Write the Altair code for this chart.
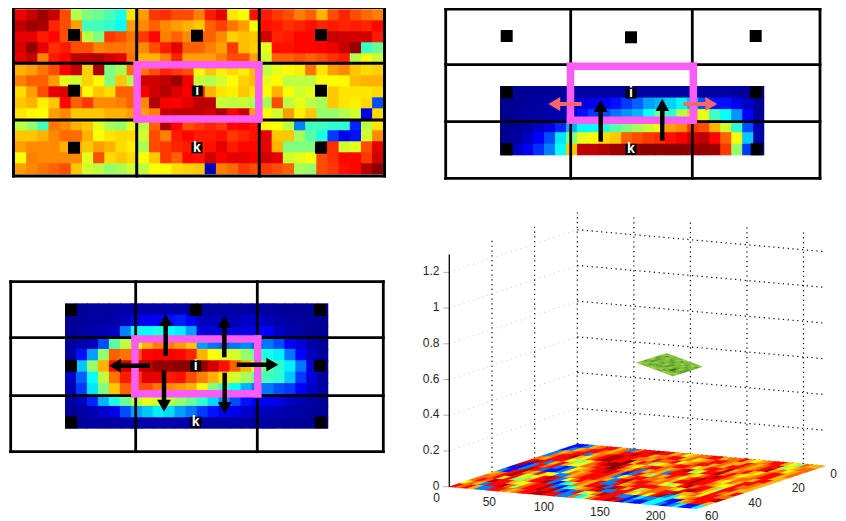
import math
import altair as alt
import pandas as pd

# ---------- heat map values (0-100 on the jet colour map) ----------
PANEL_A = [
 [89,93,97,93,80,55,50,48,45,40,65,72,82,83,80,80,75,85,90,65,62,86,85,82,80,75,78,70,80,84,80,77,75],
 [94,97,96,84,80,72,44,44,42,38,72,74,78,74,72,70,68,78,81,76,72,62,86,85,83,84,86,84,85,84,85,84,87],
 [90,90,85,87,80,80,56,50,82,80,76,82,87,75,78,74,78,78,74,67,69,68,92,84,85,87,87,88,93,92,92,92,85],
 [91,98,90,83,85,80,80,75,76,76,75,74,80,85,90,78,78,75,72,82,69,67,60,86,86,87,87,88,89,93,98,43,48],
 [90,93,75,85,87,94,94,95,92,90,76,70,70,75,84,72,72,72,75,80,80,72,58,78,78,80,78,80,83,85,55,62,57],
 [70,72,76,80,88,93,67,96,50,54,77,76,80,84,82,80,63,68,64,66,64,69,56,60,63,64,76,65,72,74,68,66,67],
 [75,78,78,72,60,58,67,63,50,68,55,92,92,94,97,89,57,55,58,62,67,69,60,63,56,56,56,62,62,63,69,70,70],
 [66,72,80,90,91,75,63,68,66,78,78,88,92,95,91,88,85,70,65,64,68,65,62,70,62,58,60,60,68,65,65,65,66],
 [68,70,64,68,87,78,82,74,74,75,78,74,95,88,88,90,94,94,57,56,57,54,54,80,56,60,56,54,68,65,64,66,20],
 [65,63,62,72,74,68,68,68,70,70,72,72,75,93,94,94,94,92,96,88,93,72,62,58,72,64,68,52,52,55,58,10,66],
 [56,52,44,76,74,70,68,60,54,52,60,56,78,95,87,80,82,84,82,87,88,86,63,62,56,25,44,44,42,42,16,56,65],
 [68,68,70,74,77,77,70,62,65,66,66,58,80,75,85,87,85,85,86,82,84,86,90,68,68,54,46,40,18,10,14,58,74],
 [72,74,74,74,70,72,68,72,70,66,64,54,80,82,84,85,85,86,90,85,87,87,90,70,50,50,50,85,83,58,60,80,90],
 [62,75,74,74,74,74,60,80,66,68,66,62,68,82,78,87,86,92,88,90,90,88,92,90,58,60,62,80,83,87,87,82,92],
 [72,74,76,78,80,68,58,56,52,54,58,56,62,63,66,67,68,5,75,77,82,80,82,80,78,54,52,80,82,86,87,95,99],
]
PANEL_B = [
 [0,1,1,1,1,1,1,2,2,2,2,2,2,2,2,2,2,2,2,2,2,1,1,0],
 [0,1,1,2,3,3,5,8,10,12,14,18,22,28,30,33,37,30,20,14,14,10,6,1],
 [0,1,2,2,3,4,6,14,18,20,24,27,30,38,48,42,55,68,60,44,38,27,12,1],
 [0,1,3,6,9,16,30,37,38,41,46,50,54,57,62,72,74,82,80,70,58,42,20,3],
 [0,2,6,12,20,35,50,60,63,66,68,78,80,82,83,86,88,92,94,87,78,62,32,3],
 [1,6,11,17,25,38,68,94,94,95,97,97,99,99,99,99,99,98,98,97,82,52,18,1],
]
PANEL_C = [
 [1,1,2,2,2,3,3,3,3,3,3,2,2,2,2,2,2,2,2,1,1,1,1,1],
 [1,1,2,2,3,5,9,11,12,14,15,12,5,5,4,4,6,7,5,3,2,2,1,1],
 [1,2,3,4,6,25,38,38,40,38,36,28,8,8,8,8,9,10,12,6,3,2,1,1],
 [2,4,5,20,46,56,60,70,75,75,72,68,28,24,22,24,26,22,24,20,12,8,3,1],
 [2,14,28,52,78,76,80,87,88,88,87,84,70,62,60,58,52,48,40,36,24,12,5,2],
 [5,32,52,70,86,92,92,94,98,98,99,99,98,92,86,78,70,60,48,42,36,24,8,2],
 [6,22,38,56,76,85,82,90,90,85,86,80,75,70,65,58,54,48,44,42,32,18,8,2],
 [4,18,35,50,68,78,80,80,76,74,72,70,62,50,44,38,30,24,24,20,18,12,6,2],
 [2,6,16,30,40,48,56,60,58,56,52,48,42,34,26,20,14,12,11,10,6,4,2,1],
 [1,2,4,7,10,20,28,32,36,34,28,24,18,14,12,10,7,5,5,4,3,2,1,1],
 [1,1,2,2,2,3,3,3,3,3,3,3,2,2,2,2,2,2,2,2,1,1,1,1],
]
FLOOR_CODES = {"b": 14, "l": 25, "c": 37, "g": 52, "y": 63, "a": 70, "o": 77, "r": 87, "d": 95, "m": 100}
FLOOR = [
 "bblaorraol" "orrdrraoya" "oorraooray" "aorraygoaa",
 "blaorroaor" "rdrraoorra" "oyaorroaar" "oaorrgyaoo",
 "laorrlaord" "drrooaroor" "yaorraoarr" "oaordaoyao",
 "lorrdayord" "drrmarogya" "orroyarrod" "aorayorrao",
 "oarrryggyo" "rdmmrayorr" "oaordgyrrd" "orayaorraa",
 "rdrlarayyo" "orrmdoarla" "oalrrrayor" "droaooarra",
 "dblrorlbly" "aorrdroblr" "agoaroyord" "rrayoarroa",
 "bbldrlbbly" "oaorrrolyo" "rrooaoarrd" "rroayyrooa",
 "lbrdoaryyl" "laorrroalr" "dorrooygyr" "dorragrraa",
 "aordrygyrd" "rlyoroarll" "raorrrrooa" "yrdrayroar",
 "ooryrggarr" "dlbcgoarrd" "ldrargaoor" "rdaaoyrroo",
 "orodrrayyo" "rrdlbcgaor" "dllrrayoyr" "dlcyaorrrd",
 "yoalrrdogo" "rrdrdlblrg" "yodrrllbcl" "lccbbaorra",
 "rorallrroa" "orrddrrllo" "cgorrdrblb" "bcclblcbbc",
]
SURFACE_SHADES = ["#3f6f1e", "#5f9e2b", "#78bb34", "#92d043"]
SURFACE = [
 "2322232223",
 "3122312231",
 "2231223122",
 "1222122312",
 "2122212221",
 "3121312131",
 "2132213021",
 "1221122012",
 "2312231223",
 "3223322332",
]

# ---------- panel geometry, in picture units ----------
MAGENTA = "#fb5cf5"
CORAL = "#ff6666"
BLACK = "#000000"

FRAMES = [  # left, right, top, bottom, vertical dividers, horizontal dividers, line width
    (13.5, 384.5, 7.5, 176, [136.7, 259.3], [63.3, 120], 3),
    (445.7, 820, 9, 178.3, [570.7, 692.3], [64.7, 121.7], 2.8),
    (10.7, 383.3, 281.7, 451.7, [135.7, 257.3], [337.7, 395.7], 2.8),
]
PINK_BOXES = [
    (137.2, 258.8, 64.8, 119),
    (570.5, 693.3, 66.3, 120.3),
    (135, 257.7, 339, 393.7),
]
MARKERS_X = [74, 197, 321, 506.7, 631, 755.7, 506.7, 756, 506.7, 756.7, 71, 195.7, 320, 71, 320, 71, 320.7]
MARKERS_Y = [35, 35.7, 35, 36, 37.3, 36, 92.3, 92.3, 149.3, 149.3, 310, 310, 310, 365.7, 365.7, 422.3, 422.3]
EXTRA_MARKERS_X = [74, 321, 74, 321]
EXTRA_MARKERS_Y = [90.7, 90.7, 147.7, 147.7]
LETTER_X = [197.3, 197, 631, 631, 195.7, 195.7]
LETTER_Y = [91, 147.7, 93, 149.3, 366, 422.3]
LETTERS = ["i", "k", "i", "k", "i", "k"]
ARROWS = [  # tail x, tail y, tip x, tip y, colour
    (600.7, 141.7, 600.7, 100, BLACK),
    (662.3, 140.7, 662.3, 99, BLACK),
    (581.7, 104, 548.3, 104, CORAL),
    (683.3, 104, 717.3, 104, CORAL),
    (165.7, 356, 165.7, 314, BLACK),
    (224.3, 357.3, 224.3, 315.7, BLACK),
    (164, 370.7, 164, 411.7, BLACK),
    (224.7, 372.7, 224.7, 414, BLACK),
    (150, 365.7, 109, 365.7, BLACK),
    (236.7, 364.7, 278.3, 364.7, BLACK),
]
Z_TICKS = [0, 0.2, 0.4, 0.6, 0.8, 1, 1.2]
Z_LABELS = ["0", "0.2", "0.4", "0.6", "0.8", "1", "1.2"]
X_TICK_LABELS = ["0", "50", "100", "150", "200"]
X_TICK_PX = [436.7, 489.3, 544, 600, 655.7]
X_TICK_PY = [497.5, 501.7, 506.7, 511.7, 515.5]
Y_TICK_LABELS = ["60", "40", "20", "0"]
Y_TICK_PX = [711.7, 755, 798.3, 833.5]
Y_TICK_PY = [515.5, 502.7, 487.7, 474]

BACK = (577.3, 444.0)
X_MAX, Y_MAX = 219.0, 60.0
X_VEC = (247.7, 22.0)
Y_VEC = (-128.0, 42.7)
Z_SCALE = 178.6


def proj(x, y, z):
    return (BACK[0] + x / X_MAX * X_VEC[0] + y / Y_MAX * Y_VEC[0],
            BACK[1] + x / X_MAX * X_VEC[1] + y / Y_MAX * Y_VEC[1] - z * Z_SCALE)


# ---------- tables ----------
def heat_rows(grid, left, top, cw, ch):
    rows = []
    nrow, ncol = len(grid), len(grid[0])
    for r, row in enumerate(grid):
        for c, v in enumerate(row):
            rows.append(dict(x=left + c * cw, x2=left + (c + 1) * cw + (1 if c < ncol - 1 else 0),
                             y=top + r * ch, y2=top + (r + 1) * ch + (1 if r < nrow - 1 else 0), v=v))
    return rows


heat = pd.DataFrame(
    heat_rows(PANEL_A, 15, 9.3, 11.16, 11.0)
    + heat_rows(PANEL_B, 500, 86, 11.01, 11.55)
    + heat_rows(PANEL_C, 65, 303.3, 10.97, 11.4)
)

seg = []
for L, R, T, B, vs, hs, w in FRAMES:
    for yy in [T, B] + hs:
        seg.append(dict(x=L, x2=R, y=yy, y2=yy, c=BLACK, w=w))
    for xx in [L, R] + vs:
        seg.append(dict(x=xx, x2=xx, y=T, y2=B, c=BLACK, w=w))
for L, R, T, B in PINK_BOXES:
    for yy in (T, B):
        seg.append(dict(x=L, x2=R, y=yy, y2=yy, c=MAGENTA, w=7.5))
    for xx in (L, R):
        seg.append(dict(x=xx, x2=xx, y=T, y2=B, c=MAGENTA, w=7.5))
frame_df = pd.DataFrame(seg)

shaft, head = [], []
for x0, y0, x1, y1, col in ARROWS:
    n = math.hypot(x1 - x0, y1 - y0)
    ux, uy = (x1 - x0) / n, (y1 - y0) / n
    shaft.append(dict(x=x0, x2=x1 - ux * 8, y=y0, y2=y1 - uy * 8, c=col,
                      w=4.5 if col == BLACK else 4))
    head.append(dict(x=x1 - ux * 6, y=y1 - uy * 6, c=col,
                     a=(math.degrees(math.atan2(ux, -uy))) % 360))
shaft_df = pd.DataFrame(shaft)
head_df = pd.DataFrame(head)

squares = pd.DataFrame({"x": MARKERS_X + EXTRA_MARKERS_X, "y": MARKERS_Y + EXTRA_MARKERS_Y})
letter_sq = pd.DataFrame({"x": LETTER_X, "y": LETTER_Y, "t": LETTERS})

black_grid, grey_grid = [], []
for z in Z_TICKS:
    a, b, c = proj(0, Y_MAX, z), proj(0, 0, z), proj(X_MAX, 0, z)
    if z > 0:
        grey_grid.append(dict(x=a[0], y=a[1], x2=b[0], y2=b[1]))
    black_grid.append(dict(x=b[0], y=b[1], x2=c[0], y2=c[1]))
for xt in [0, 50, 100, 150, 200]:
    a, b = proj(xt, 0, 0), proj(xt, 0, 1.3)
    black_grid.append(dict(x=a[0], y=a[1], x2=b[0], y2=b[1]))
for yt in [20, 40]:
    a, b = proj(0, yt, 0), proj(0, yt, 1.3)
    black_grid.append(dict(x=a[0], y=a[1], x2=b[0], y2=b[1]))
black_df = pd.DataFrame(black_grid)
grey_df = pd.DataFrame(grey_grid)

left_c = proj(0, Y_MAX, 0)
ztick_df = pd.DataFrame([dict(x=left_c[0] - 6, x2=left_c[0], y=left_c[1] - z * Z_SCALE,
                              y2=left_c[1] - z * Z_SCALE) for z in Z_TICKS])
zaxis_df = pd.DataFrame([dict(x=left_c[0], x2=left_c[0], y=left_c[1], y2=left_c[1] - 1.3 * Z_SCALE)])
zlab_df = pd.DataFrame({"x": [439.5] * 7, "y": [left_c[1] - z * Z_SCALE - 1 for z in Z_TICKS], "t": Z_LABELS})
tick_df = pd.DataFrame({"x": X_TICK_PX + Y_TICK_PX, "y": X_TICK_PY + Y_TICK_PY,
                        "t": X_TICK_LABELS + Y_TICK_LABELS})

NR, NC = len(FLOOR), len(FLOOR[0])
floor_rows = []
for r, row in enumerate(FLOOR):
    for c, ch in enumerate(row):
        p = proj((c + 0.5) / NC * X_MAX, (r + 0.5) / NR * Y_MAX, 0)
        floor_rows.append(dict(x=p[0], y=p[1], v=FLOOR_CODES[ch]))
floor_df = pd.DataFrame(floor_rows)


def para_path(ax, ay, bx, by, grow=1.2):
    pts = [(-ax - bx, -ay - by), (ax - bx, ay - by), (ax + bx, ay + by), (-ax + bx, -ay + by)]
    return "M" + "L".join(f"{grow * px / 2:.2f},{grow * py / 2:.2f}" for px, py in pts) + "Z"


FLOOR_PATH = para_path(X_VEC[0] / NC, X_VEC[1] / NC, Y_VEC[0] / NR, Y_VEC[1] / NR)

S_TOP = (666.7, 353.3)
S_A = (36.0, 13.4)
S_B = (-30.0, 9.4)
sn = len(SURFACE)
surf_rows = []
for r, row in enumerate(SURFACE):
    for c, ch in enumerate(row):
        surf_rows.append(dict(
            x=S_TOP[0] + (c + 0.5) / sn * S_A[0] + (r + 0.5) / sn * S_B[0],
            y=S_TOP[1] + (c + 0.5) / sn * S_A[1] + (r + 0.5) / sn * S_B[1],
            f=SURFACE_SHADES[int(ch)]))
surf_df = pd.DataFrame(surf_rows)
SURF_PATH = para_path(S_A[0] / sn, S_A[1] / sn, S_B[0] / sn, S_B[1] / sn, 1.15)

# ---------- scales ----------
PX = alt.Scale(domain=[8, 838], nice=False, zero=False)
PY = alt.Scale(domain=[521, 8], nice=False, zero=False)
X = alt.X("x:Q", scale=PX, axis=None)
Y = alt.Y("y:Q", scale=PY, axis=None)
JET = alt.Scale(domain=[0, 12.5, 37.5, 62.5, 87.5, 100],
                range=["#00008f", "#0000ff", "#00ffff", "#ffff00", "#ff0000", "#800000"],
                interpolate="rgb")

heat_layer = alt.Chart(heat).mark_rect(strokeWidth=0).encode(
    x=X, x2="x2:Q", y=Y, y2="y2:Q",
    color=alt.Color("v:Q", scale=JET, legend=None))

frame_layer = alt.Chart(frame_df).mark_rule(strokeCap="square").encode(
    x=X, x2="x2:Q", y=Y, y2="y2:Q",
    stroke=alt.Stroke("c:N", scale=None),
    strokeWidth=alt.StrokeWidth("w:Q", scale=None))

square_layer = alt.Chart(squares).mark_square(size=144, opacity=1, color=BLACK).encode(x=X, y=Y)
letter_bg = alt.Chart(letter_sq).mark_square(size=121, opacity=1, color=BLACK).encode(x=X, y=Y)
letter_layer = alt.Chart(letter_sq).mark_text(
    font="Liberation Sans", fontWeight="bold", fontSize=14, color="#ffffff", baseline="middle", align="center"
).encode(x=X, y=Y, text="t:N")

shaft_layer = alt.Chart(shaft_df).mark_rule(strokeCap="butt").encode(
    x=X, x2="x2:Q", y=Y, y2="y2:Q",
    stroke=alt.Stroke("c:N", scale=None),
    strokeWidth=alt.StrokeWidth("w:Q", scale=None))
head_layer = alt.Chart(head_df).mark_point(shape="triangle-up", filled=True, size=190, opacity=1, strokeWidth=0).encode(
    x=X, y=Y,
    fill=alt.Fill("c:N", scale=None),
    angle=alt.Angle("a:Q", scale=None))

grey_layer = alt.Chart(grey_df).mark_rule(color="#c8c8c8", strokeWidth=1, strokeDash=[1, 4]).encode(
    x=X, x2="x2:Q", y=Y, y2="y2:Q")
black_layer = alt.Chart(black_df).mark_rule(color="#000000", strokeWidth=1.2, strokeDash=[1.2, 3.6]).encode(
    x=X, x2="x2:Q", y=Y, y2="y2:Q")
floor_layer = alt.Chart(floor_df).mark_point(shape=FLOOR_PATH, size=4, filled=True, opacity=1, strokeWidth=0).encode(
    x=X, y=Y, color=alt.Color("v:Q", scale=JET, legend=None))
surf_layer = alt.Chart(surf_df).mark_point(shape=SURF_PATH, size=4, filled=True, opacity=1, strokeWidth=0).encode(
    x=X, y=Y, fill=alt.Fill("f:N", scale=None))
ztick_layer = alt.Chart(ztick_df).mark_rule(color="#b0b0b0", strokeWidth=1).encode(
    x=X, x2="x2:Q", y=Y, y2="y2:Q")
zaxis_layer = alt.Chart(zaxis_df).mark_rule(color="#000000", strokeWidth=1.3).encode(
    x=X, x2="x2:Q", y=Y, y2="y2:Q")
zlab_layer = alt.Chart(zlab_df).mark_text(
    font="Liberation Sans", fontSize=12, color="#262626", align="right", baseline="middle"
).encode(x=X, y=Y, text="t:N")
tick_layer = alt.Chart(tick_df).mark_text(
    font="Liberation Sans", fontSize=12, color="#262626", align="center", baseline="middle"
).encode(x=X, y=Y, text="t:N")

chart = alt.layer(
    heat_layer, frame_layer, square_layer, letter_bg, letter_layer, shaft_layer, head_layer,
    grey_layer, black_layer, floor_layer, surf_layer, ztick_layer, zaxis_layer, zlab_layer, tick_layer,
).properties(
    width=830, height=513, padding=0,
    autosize=alt.AutoSizeParams(type="none"),
    background="#ffffff",
).configure_view(stroke=None)

chart.save("out.html", embed_options={"renderer": "svg", "actions": False})
